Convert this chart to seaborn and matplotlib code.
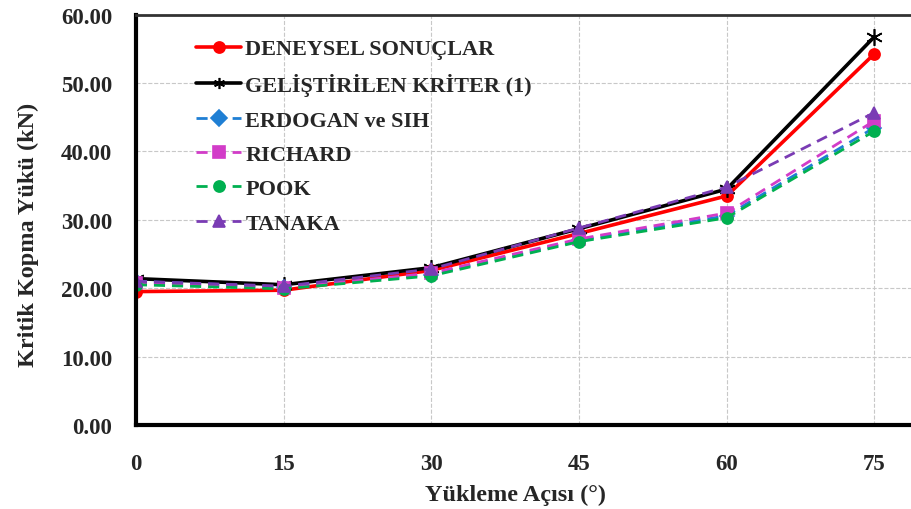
import pandas as pd
import matplotlib.pyplot as plt
import seaborn as sns

aci = [0, 15, 30, 45, 60, 75]

deneysel = [19.5, 19.7, 22.6, 28.0, 33.5, 54.3]
gelistirilen = [21.4, 20.5, 23.0, 28.7, 34.5, 56.8]
erdogan = [21.0, 20.2, 22.0, 27.0, 30.6, 43.5]
richard = [20.8, 20.0, 22.2, 27.2, 31.0, 44.5]
pook = [20.5, 19.9, 21.8, 26.8, 30.3, 43.0]
tanaka = [21.0, 20.3, 22.8, 28.8, 34.8, 45.7]

names = ['DENEYSEL SONUÇLAR', 'GELİŞTİRİLEN KRİTER (1)', 'ERDOGAN ve SIH',
         'RICHARD', 'POOK', 'TANAKA']
series = [deneysel, gelistirilen, erdogan, richard, pook, tanaka]
colors = ['#ff0000', '#000000', '#1f7fd4', '#d23cc8', '#00b050', '#7a3cb4']
markers = ['o', (6, 2, 0), 'D', 's', 'o', '^']
styles = ['-', '-', '--', '--', '--', '--']

sns.set_style('white')
plt.rcParams['font.family'] = ['Liberation Serif', 'DejaVu Serif']
plt.rcParams['font.weight'] = 'bold'

fig = plt.figure(figsize=(9.12, 5.1), dpi=100)
ax = fig.add_axes([0.149, 0.165, 0.853, 0.804])

for name, vals, c, m, ls in zip(names, series, colors, markers, styles):
    df = pd.DataFrame({'aci': aci, 'yuk': vals})
    lw = 2.6 if ls == '-' else 2.0
    ms = 8 if m != 'D' else 7
    if m == (6, 2, 0):
        ms = 12
    sns.lineplot(data=df, x='aci', y='yuk', ax=ax, color=c, marker=m,
                 linestyle=ls, linewidth=lw, markersize=ms, markeredgecolor=c,
                 markeredgewidth=1.2, label=name, dashes=False)
    ax.lines[-1].set_linestyle(ls)
    if ls == '--':
        ax.lines[-1].set_dashes([4, 2.5])

ax.set_xlim(0, 79)
ax.set_ylim(0, 60)
ax.set_xticks(aci)
ax.set_yticks(range(0, 61, 10))
ax.set_yticklabels([f'{v:.2f}' for v in range(0, 61, 10)])
ax.tick_params(axis='both', labelsize=16.5, direction='in', length=5, width=1.5)
ax.tick_params(axis='x', pad=20)
ax.tick_params(axis='y', pad=17)
ax.grid(True, color='#c8c8c8', linestyle='--', linewidth=0.8)

for s in ['left', 'bottom']:
    ax.spines[s].set_linewidth(3)
    ax.spines[s].set_color('black')
for s in ['top', 'right']:
    ax.spines[s].set_linewidth(2)
    ax.spines[s].set_color('#333333')

ax.set_xlabel('Yükleme Açısı (°)', fontsize=17.5, fontweight='bold')
ax.set_ylabel('Kritik Kopma Yükü (kN)', fontsize=17.5, fontweight='bold')
ax.xaxis.set_label_coords(0.488, -0.143)
ax.yaxis.set_label_coords(-0.125, 0.466)

leg = ax.legend(loc='upper left', bbox_to_anchor=(0.052, 0.99), frameon=False,
                handlelength=2.0, labelspacing=0.62, handletextpad=0.2,
                prop={'weight': 'bold', 'size': 16})
for h in leg.legend_handles:
    h.set_markersize(8)

fig.savefig('out.png', dpi=100)
